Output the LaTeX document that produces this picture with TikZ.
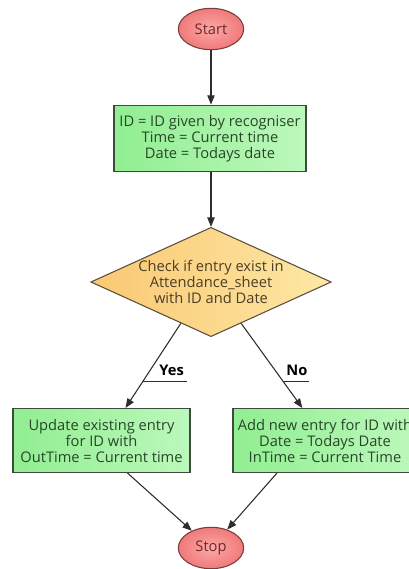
\documentclass[tikz,border=0pt]{standalone}
\usepackage{fontspec}
\setmainfont{Open Sans}
\usetikzlibrary{shapes.geometric,arrows.meta,calc}

\definecolor{termline}{RGB}{120,60,60}
\definecolor{termin}{RGB}{252,168,168}
\definecolor{termout}{RGB}{240,122,122}
\definecolor{termtext}{RGB}{110,40,40}
\definecolor{boxline}{RGB}{60,75,60}
\definecolor{boxleft}{RGB}{145,238,145}
\definecolor{boxright}{RGB}{188,248,188}
\definecolor{boxtext}{RGB}{40,70,40}
\definecolor{decline}{RGB}{90,80,60}
\definecolor{decleft}{RGB}{250,200,115}
\definecolor{decright}{RGB}{253,232,165}
\definecolor{dectext}{RGB}{75,62,40}
\definecolor{linecol}{RGB}{45,45,45}

\begin{document}
\begin{tikzpicture}[
    x=0.75pt, y=-0.75pt,
    font=\fontsize{11}{12}\selectfont,
    terminal/.style={ellipse, draw=termline, line width=0.8pt, inner color=termin, outer color=termout, text=termtext, minimum width=49pt, minimum height=31pt, inner sep=0pt},
    process/.style={rectangle, draw=boxline, line width=0.8pt, left color=boxleft, right color=boxright, text=boxtext, align=center, minimum height=48pt, inner sep=2pt},
    decision/.style={diamond, draw=decline, line width=0.8pt, left color=decleft, right color=decright, text=dectext, align=center, aspect=2.2, inner sep=0pt},
    arrow/.style={-{Triangle[length=7pt,width=5.5pt]}, draw=linecol, line width=0.8pt},
    leader/.style={draw=linecol, line width=0.6pt},
    answer/.style={font=\fontsize{11}{12}\selectfont\bfseries, text=black, inner sep=0pt, anchor=base}
]

\clip (0,0) rectangle (409,569);

% Debut et calcul des valeurs
\node[terminal] (start) at (211,29) {Start};
\node[process, minimum width=144pt, minimum height=50pt] (init) at (210,138.5) {ID = ID given by recogniser\\Time = Current time\\Date = Todays date};

% Test
\node[decision] (check) at (211,282) {Check if entry exist in\\Attendance\_sheet\\with ID and Date};

% Les deux branches
\node[process, minimum width=132.75pt] (update) at (101.5,440.5) {Update existing entry\\for ID with\\OutTime = Current time};
\node[process, minimum width=138pt] (add) at (325,440.5) {Add new entry for ID with\\Date = Todays Date\\InTime = Current Time};

% Fin
\node[terminal] (stop) at (211,548) {Stop};

% Fleches
\draw[arrow] (start) -- (start |- init.north);
\draw[arrow] (init.south -| check.north) -- (check.north);
\draw[arrow] ($(check.south)!0.25!(check.west)$) -- coordinate[pos=0.69] (yesfoot) ([xshift=18pt]update.north);
\draw[arrow] ($(check.south)!0.25!(check.east)$) -- coordinate[pos=0.69] (nofoot) ([xshift=-17pt]add.north);
\draw[arrow] ([xshift=19.5pt]update.south) -- (stop);
\draw[arrow] ([xshift=-36pt]add.south) -- (stop);

% Etiquettes Yes / No
\draw[leader] (yesfoot) -- ++(44,0);
\node[answer] (yes) at ($(yesfoot)+(29,-6)$) {Yes};
\draw[leader] (nofoot) -- ++(26,0);
\node[answer] (no) at ($(nofoot)+(13.5,-6)$) {No};

\end{tikzpicture}
\end{document}
